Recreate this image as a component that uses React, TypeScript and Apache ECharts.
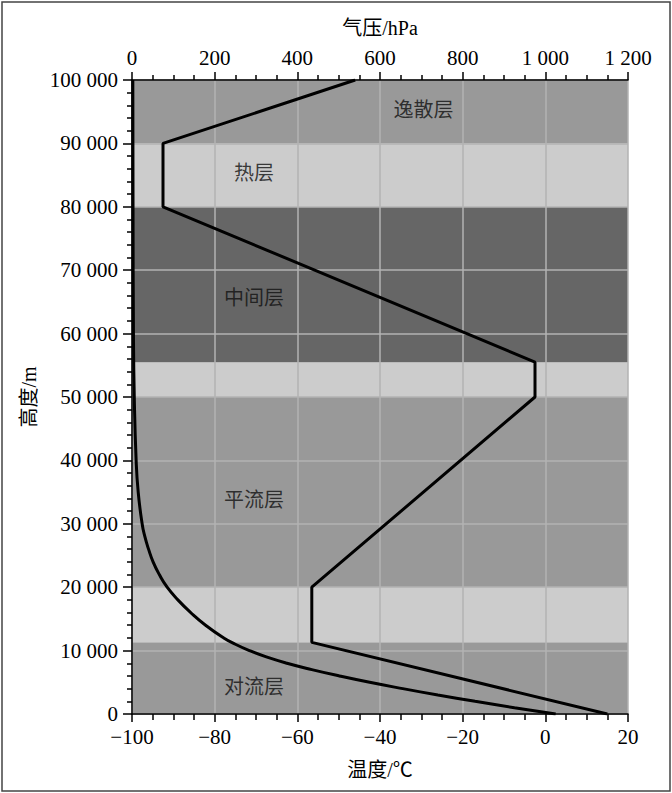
import React, { useEffect, useRef } from "react";
import * as echarts from "echarts";

// Temperature profile (°C) vs height (m)
const tempHeights = [0, 11300, 20000, 50000, 55500, 80000, 90000, 100000];
const temperatures = [15, -56.5, -56.5, -2.5, -2.5, -92.5, -92.5, -46];

// Pressure profile (hPa) vs height (m)
const pressureHeights = [0, 1000, 2000, 3000, 4000, 5000, 6000, 7000, 8000, 9000, 10000, 11000, 12000, 14000, 16000, 18000, 20000, 22000, 24000, 26000, 28000, 30000, 35000, 40000, 50000, 60000, 80000, 100000];
const pressures = [1025, 925, 830, 740, 655, 575, 502, 435, 375, 325, 284, 250, 222, 178, 142, 111, 85, 66, 51, 40, 31, 24.5, 15, 10, 5.5, 3.5, 2.5, 2];

// Atmospheric layer bands
const bandBottoms = [0, 11300, 20000, 50000, 55500, 80000, 90000];
const bandTops = [11300, 20000, 50000, 55500, 80000, 90000, 100000];
const bandShades = ["#999999", "#cccccc", "#999999", "#cccccc", "#666666", "#cccccc", "#999999"];

// Layer names and anchor (temperature, height)
const layerNames = ["对流层", "平流层", "中间层", "热层", "逸散层"];
const layerLabelTemp = [-70.5, -70.5, -70.5, -70.5, -29.5];
const layerLabelHeight = [4300, 33700, 65600, 85300, 95300];

const tempTicks = { min: -100, max: 20, interval: 20 };
const pressureTicks = { min: 0, max: 1200, interval: 200 };
const heightTicks = { min: 0, max: 100000, interval: 10000 };

const SERIF = "Liberation Serif, Noto Sans CJK SC, serif";

function fmt(v: number): string {
  const s = String(Math.abs(v)).replace(/\B(?=(\d{3})+(?!\d))/g, " ");
  return v < 0 ? "\u2212" + s : s;
}

export default function App() {
  const ref = useRef<HTMLDivElement>(null);
  useEffect(() => {
    if (!ref.current) return;
    const chart = echarts.init(ref.current, null, { renderer: "svg" });
    const axisLine = { show: true, onZero: false, lineStyle: { color: "#000", width: 1.5 } };
    const gridLine = { show: true, lineStyle: { color: "#b3b3b3", width: 1.5 } };
    const labelStyle = { color: "#000", fontSize: 21, fontFamily: SERIF };
    const nameStyle = { color: "#000", fontSize: 20, fontFamily: SERIF };
    chart.setOption({
      animation: false,
      backgroundColor: "#fff",
      grid: { left: 132, right: 44, top: 80, bottom: 79, containLabel: false },
      graphic: [
        {
          type: "rect",
          shape: { x: 2, y: 2, width: 668, height: 789 },
          style: { fill: "none", stroke: "#444", lineWidth: 1.5 },
          z: 100,
        },
      ],
      xAxis: [
        {
          type: "value",
          position: "bottom",
          ...tempTicks,
          z: 2,
          name: "温度/℃",
          nameLocation: "middle",
          nameGap: 46,
          nameTextStyle: nameStyle,
          axisLine,
          axisTick: { show: true, inside: false, length: 8, lineStyle: { color: "#000", width: 1.5 } },
          minorTick: { show: true, splitNumber: 4, length: 6, lineStyle: { color: "#000", width: 1.5 } },
          axisLabel: { ...labelStyle, margin: 12, formatter: fmt },
          splitLine: gridLine,
        },
        {
          type: "value",
          position: "top",
          ...pressureTicks,
          z: 2,
          name: "气压/hPa",
          nameLocation: "middle",
          nameGap: 42,
          nameTextStyle: nameStyle,
          axisLine,
          axisTick: { show: true, inside: false, length: 8, lineStyle: { color: "#000", width: 1.5 } },
          minorTick: { show: true, splitNumber: 4, length: 5, lineStyle: { color: "#000", width: 1.5 } },
          axisLabel: { ...labelStyle, margin: 12, formatter: fmt },
          splitLine: { show: false },
        },
      ],
      yAxis: {
        type: "value",
        ...heightTicks,
        z: 2,
        name: "高度/m",
        nameLocation: "middle",
        nameGap: 88,
        nameRotate: 90,
        nameTextStyle: nameStyle,
        axisLine,
        axisTick: { show: true, inside: false, length: 9, lineStyle: { color: "#000", width: 1.5 } },
        minorTick: { show: true, splitNumber: 5, length: 5, lineStyle: { color: "#000", width: 1.5 } },
        axisLabel: { ...labelStyle, margin: 14, formatter: fmt },
        splitLine: gridLine,
      },
      series: [
        {
          type: "line",
          z: 0,
          xAxisIndex: 0,
          data: [[-100, 0]],
          symbol: "none",
          lineStyle: { opacity: 0 },
          silent: true,
          markArea: {
            z: 0,
            silent: true,
            data: bandBottoms.map((b, i) => [
              { yAxis: b, itemStyle: { color: bandShades[i], opacity: 1 } },
              { yAxis: bandTops[i] },
            ]),
          },
        },
        {
          type: "line",
          z: 3,
          xAxisIndex: 0,
          data: temperatures.map((t, i) => [t, tempHeights[i]]),
          symbol: "none",
          lineStyle: { color: "#000", width: 3 },
        },
        {
          type: "line",
          z: 3,
          xAxisIndex: 1,
          smooth: true,
          data: pressures.map((p, i) => [p, pressureHeights[i]]),
          symbol: "none",
          lineStyle: { color: "#000", width: 3 },
        },
        {
          type: "scatter",
          z: 4,
          xAxisIndex: 0,
          symbolSize: 0,
          data: layerNames.map((n, i) => ({ name: n, value: [layerLabelTemp[i], layerLabelHeight[i]] })),
          label: {
            show: true,
            position: "inside",
            formatter: (p: any) => p.name,
            color: "#111",
            fontSize: 20,
            fontFamily: SERIF,
          },
        },
      ],
    });
    return () => chart.dispose();
  }, []);
  return (
    <div
      ref={ref}
      style={{ position: "fixed", left: 0, top: 0, width: 672, height: 793 }}
    />
  );
}
